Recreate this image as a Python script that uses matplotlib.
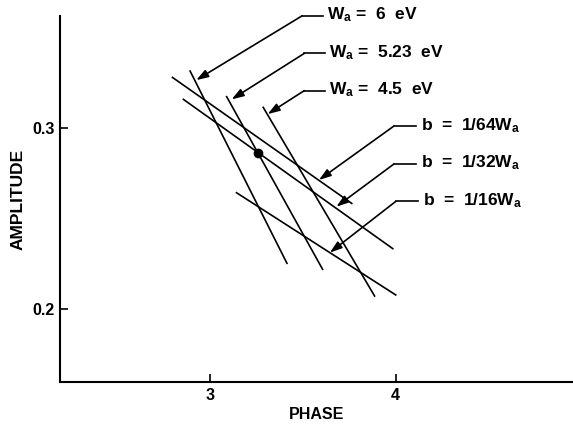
import matplotlib.pyplot as plt

plt.rcParams['font.family'] = ['Liberation Sans', 'DejaVu Sans']
plt.rcParams['mathtext.default'] = 'regular'

# amplitude curves (constant b)
b_labels = ["b  =  1/64W$_a$", "b  =  1/32W$_a$", "b  =  1/16W$_a$"]
b_x = [[2.797, 3.763], [2.856, 3.984], [3.142, 4.0]]
b_y = [[0.3277, 0.2583], [0.3156, 0.2334], [0.2642, 0.2079]]

# steep lines (constant Wa)
w_labels = ["W$_a$ =  6  eV", "W$_a$ =  5.23  eV", "W$_a$ =  4.5  eV"]
w_x = [[2.892, 3.414], [3.089, 3.606], [3.286, 3.886]]
w_y = [[0.3312, 0.2253], [0.3171, 0.222], [0.3112, 0.2073]]

# marked solution point
pt_x = [3.256]
pt_y = [0.2859]

# leader lines: arrow tip, elbow
w_tip = [(2.925, 0.3262), (3.116, 0.3156), (3.310, 0.3075)]
w_elb = [(3.497, 0.3617), (3.507, 0.3409), (3.507, 0.3204)]
b_tip = [(3.586, 0.2712), (3.680, 0.2565), (3.645, 0.2312)]
b_elb = [(3.990, 0.3009), (3.990, 0.2800), (4.000, 0.2594)]

fig = plt.figure(figsize=(5.73, 4.25), dpi=100)
ax = fig.add_axes([0.105, 0.1005, 0.895, 0.8618])

for xs, ys in zip(b_x + w_x, b_y + w_y):
    ax.plot(xs, ys, color='black', lw=1.2)
ax.plot(pt_x, pt_y, 'o', color='black', markersize=6)


def leader(label, tip, elb, seg):
    end = (elb[0] + seg, elb[1])
    ax.plot([elb[0], end[0]], [elb[1], elb[1]], color='black', lw=1.2, clip_on=False)
    ax.annotate('', xy=tip, xytext=elb, annotation_clip=False,
                arrowprops=dict(arrowstyle='-|>,head_length=0.6,head_width=0.2',
                                color='black', lw=1.2,
                                mutation_scale=12, shrinkA=0, shrinkB=0))
    ax.text(end[0] + 0.025, elb[1] + 0.0005, label, fontsize=12.5, va='center',
            ha='left', fontweight='bold', clip_on=False)


for lab, tip, elb in zip(w_labels, w_tip, w_elb):
    leader(lab, tip, elb, 0.11)
for lab, tip, elb in zip(b_labels, b_tip, b_elb):
    leader(lab, tip, elb, 0.12)

ax.set_xlim(2.192, 4.955)
ax.set_ylim(0.1598, 0.3615)
ax.set_xticks([3, 4])
ax.set_yticks([0.2, 0.3])
ax.set_xticklabels(['3', '4'], fontweight='bold')
ax.set_yticklabels(['0.2', '0.3'], fontweight='bold')
ax.tick_params(direction='in', length=6, width=1.2, labelsize=11.5, pad=4)
ax.spines['top'].set_visible(False)
ax.spines['right'].set_visible(False)
ax.spines['left'].set_linewidth(1.5)
ax.spines['bottom'].set_linewidth(1.5)
ax.set_xlabel('PHASE', fontsize=11.5, fontweight='bold', labelpad=3)
ax.set_ylabel('AMPLITUDE', fontsize=12.5, fontweight='bold', labelpad=5)

fig.savefig('out.png', dpi=100)
